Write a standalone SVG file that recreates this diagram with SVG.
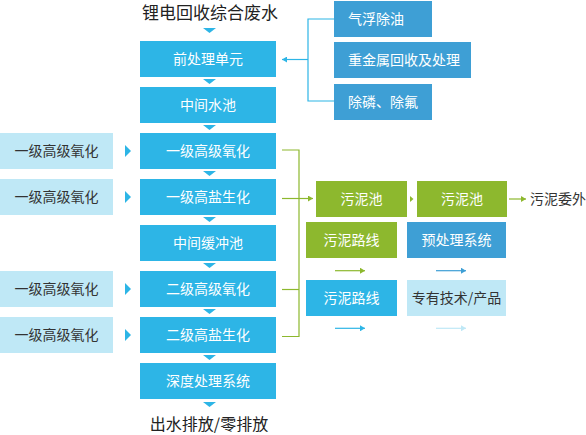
<svg xmlns="http://www.w3.org/2000/svg" width="586" height="435" viewBox="0 0 586 435">
<defs>
<style>
text{font-family:"Noto Sans CJK SC","Noto Sans",sans-serif;font-size:14px}
.main{fill:#2db5e6}
.dark{fill:#3e9fd5}
.green{fill:#8db82e}
.light{fill:#bfe8f6}
.wt{fill:#ffffff;text-anchor:middle}
.wl{fill:#ffffff}
.dt{fill:#333333;text-anchor:middle}
.tri{fill:#2db5e6}
.lb{fill:none;stroke:#2db5e6;stroke-width:1.2}
.lg{fill:none;stroke:#8db82e;stroke-width:1.2}
</style>
<marker id="mb" markerUnits="userSpaceOnUse" markerWidth="6" markerHeight="6" refX="5" refY="3" orient="auto"><path d="M0,0 L5,3 L0,6 Z" fill="#2db5e6"/></marker>
<marker id="mg" markerUnits="userSpaceOnUse" markerWidth="6" markerHeight="6" refX="5" refY="3" orient="auto"><path d="M0,0 L5,3 L0,6 Z" fill="#8db82e"/></marker>
<marker id="md" markerUnits="userSpaceOnUse" markerWidth="6" markerHeight="6" refX="5" refY="3" orient="auto"><path d="M0,0 L5,3 L0,6 Z" fill="#3e9fd5"/></marker>
<marker id="ml" markerUnits="userSpaceOnUse" markerWidth="6" markerHeight="6" refX="5" refY="3" orient="auto"><path d="M0,0 L5,3 L0,6 Z" fill="#bfe8f6"/></marker>
</defs>
<rect width="586" height="435" fill="#ffffff"/>

<text id="title" x="210" y="18.5" style="font-size:17px;fill:#222;text-anchor:middle">锂电回收综合废水</text>
<text id="output" x="209" y="430" style="font-size:16px;fill:#222;text-anchor:middle">出水排放/零排放</text>

<g id="flow-triangles">
<polygon class="tri" points="203,28 216,28 209.5,33"/>
<polygon class="tri" points="203,79 216,79 209.5,84"/>
<polygon class="tri" points="203,125 216,125 209.5,130"/>
<polygon class="tri" points="203,171 216,171 209.5,176"/>
<polygon class="tri" points="203,217 216,217 209.5,222"/>
<polygon class="tri" points="203,263 216,263 209.5,268"/>
<polygon class="tri" points="203,309 216,309 209.5,314"/>
<polygon class="tri" points="203,355 216,355 209.5,360"/>
<polygon class="tri" points="203,402 216,402 209.5,407"/>
<polygon class="tri" points="125,145 131,151 125,157"/>
<polygon class="tri" points="125,191 131,197 125,203"/>
<polygon class="tri" points="125,283 131,289 125,295"/>
<polygon class="tri" points="125,329 131,335 125,341"/>
</g>

<g id="n-pre"><rect class="main" x="140" y="41" width="136" height="36"/><text class="wt" x="208" y="64">前处理单元</text></g>
<g id="n-mid"><rect class="main" x="140" y="87" width="136" height="36"/><text class="wt" x="208" y="110">中间水池</text></g>
<g id="n-ox1"><rect class="main" x="140" y="133" width="136" height="36"/><text class="wt" x="208" y="156">一级高级氧化</text></g>
<g id="n-bio1"><rect class="main" x="140" y="179" width="136" height="36"/><text class="wt" x="208" y="202">一级高盐生化</text></g>
<g id="n-buf"><rect class="main" x="140" y="225" width="136" height="36"/><text class="wt" x="208" y="248">中间缓冲池</text></g>
<g id="n-ox2"><rect class="main" x="140" y="271" width="136" height="36"/><text class="wt" x="208" y="294">二级高级氧化</text></g>
<g id="n-bio2"><rect class="main" x="140" y="317" width="136" height="36"/><text class="wt" x="208" y="340">二级高盐生化</text></g>
<g id="n-deep"><rect class="main" x="140" y="363" width="136" height="36"/><text class="wt" x="208" y="386">深度处理系统</text></g>

<g id="l1"><rect class="light" x="0" y="133" width="113" height="36"/><text class="dt" x="56.5" y="156">一级高级氧化</text></g>
<g id="l2"><rect class="light" x="0" y="179" width="113" height="36"/><text class="dt" x="56.5" y="202">一级高级氧化</text></g>
<g id="l3"><rect class="light" x="0" y="271" width="113" height="36"/><text class="dt" x="56.5" y="294">一级高级氧化</text></g>
<g id="l4"><rect class="light" x="0" y="317" width="113" height="36"/><text class="dt" x="56.5" y="340">一级高级氧化</text></g>

<g id="r-oil"><rect class="dark" x="334" y="1" width="98" height="36"/><text class="wl" x="348" y="24">气浮除油</text></g>
<g id="r-metal"><rect class="dark" x="334" y="42" width="137" height="36"/><text class="wl" x="348" y="65">重金属回收及处理</text></g>
<g id="r-pf"><rect class="dark" x="334" y="84" width="98" height="36"/><text class="wl" x="348" y="107">除磷、除氟</text></g>

<g id="s-pool1"><rect class="green" x="316" y="181" width="91" height="36"/><text class="wt" x="361.5" y="204">污泥池</text></g>
<g id="s-pool2"><rect class="green" x="417" y="181" width="90" height="36"/><text class="wt" x="462" y="204">污泥池</text></g>
<text id="s-out" x="530" y="204" style="fill:#333">污泥委外</text>
<g id="k-route-g"><rect class="green" x="306" y="222" width="91" height="36"/><text class="wt" x="351.5" y="245">污泥路线</text></g>
<g id="k-pre"><rect class="dark" x="407" y="222" width="99" height="36"/><text class="wt" x="456.5" y="245">预处理系统</text></g>
<g id="k-route-b"><rect class="main" x="306" y="280" width="91" height="36"/><text class="wt" x="351.5" y="303">污泥路线</text></g>
<g id="k-tech"><rect class="light" x="407" y="280" width="99" height="36"/><text class="dt" x="456.5" y="303">专有技术/产品</text></g>

<g id="connectors">
<path class="lb" d="M334,19 H308 V101 H334"/>
<path class="lb" d="M308,59.5 H282" marker-end="url(#mb)"/>
<path class="lg" d="M282,150 H299 V336.5 H282"/>
<path class="lg" d="M282,289.5 H299"/>
<path class="lg" d="M282,198.5 H313" marker-end="url(#mg)"/>
<path d="M410,196 L413.5,199 L410,202 Z" fill="#8db82e"/>
<path class="lg" d="M509,199 H526" marker-end="url(#mg)"/>
<path class="lg" d="M335,270.7 H365" marker-end="url(#mg)"/>
<path fill="none" stroke="#3e9fd5" stroke-width="1.2" d="M436,270.7 H466" marker-end="url(#md)"/>
<path class="lb" d="M335,328.3 H365" marker-end="url(#mb)"/>
<path fill="none" stroke="#bfe8f6" stroke-width="1.2" d="M436,328.3 H466" marker-end="url(#ml)"/>
</g>
</svg>
